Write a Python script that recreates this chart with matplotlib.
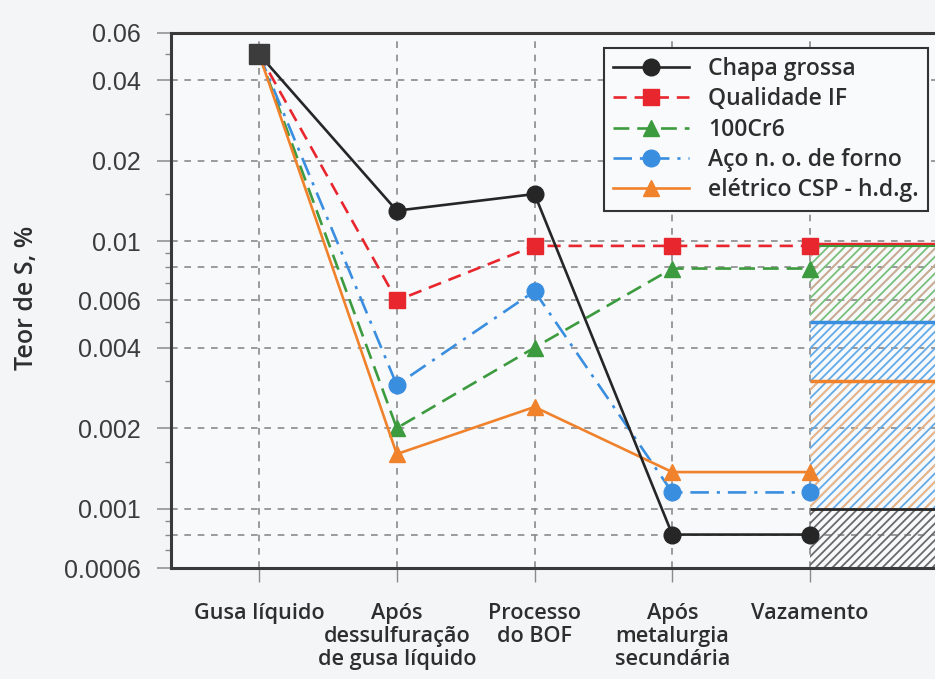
import matplotlib
matplotlib.use("Agg")
import matplotlib.pyplot as plt
from matplotlib.ticker import FixedLocator, FixedFormatter, NullFormatter

# ---- data -------------------------------------------------------------
stages = ["Gusa líquido", "Após\ndessulfuração\nde gusa líquido", "Processo\ndo BOF",
          "Após\nmetalurgia\nsecundária", "Vazamento"]

chapa_grossa = [0.05, 0.013, 0.015, 0.0008, 0.0008]
qualidade_if = [0.05, 0.006, 0.0096, 0.0096, 0.0096]
cr6_100 = [0.05, 0.002, 0.004, 0.0079, 0.0079]
aco_no_azul = [0.05, 0.0029, 0.0065, 0.00115, 0.00115]
aco_no_laranja = [0.05, 0.0016, 0.0024, 0.00137, 0.00137]

legend_lines = ["Chapa grossa", "Qualidade IF", "100Cr6", "Aço n. o. de forno",
                "elétrico CSP - h.d.g."]

# sulphur ranges at tapping (lower, upper)
band_limits = {
    "if": (0.005, 0.0098),
    "cr6": (0.005, 0.0096),
    "azul": (0.001, 0.005),
    "laranja": (0.001, 0.003),
    "chapa": (0.0006, 0.001),
}

yticks_major = [0.0006, 0.001, 0.002, 0.004, 0.006, 0.01, 0.02, 0.04, 0.06]
ytick_labels = ["0.0006", "0.001", "0.002", "0.004", "0.006", "0.01", "0.02", "0.04", "0.06"]
ygrid = [0.0008, 0.001, 0.002, 0.004, 0.006, 0.008, 0.01, 0.02, 0.04]
yticks_minor = [0.0007, 0.0008, 0.0009, 0.0015, 0.003, 0.005, 0.007, 0.008, 0.009,
                0.015, 0.03, 0.05]

# ---- style ------------------------------------------------------------
BLACK = "#262626"
RED = "#e8262e"
GREEN = "#3d9b3f"
BLUE = "#3a8ee0"
ORANGE = "#f0822c"
FRAME = "#3a3a3a"
GRID = "#8a8a8a"
TEXT = "#2e2e2e"

plt.rcParams["font.family"] = ["Liberation Sans", "DejaVu Sans"]
plt.rcParams["hatch.linewidth"] = 1.3
label_font = ["Open Sans", "DejaVu Sans"]

fig = plt.figure(figsize=(9.35, 6.79), dpi=100, facecolor="#f3f5f7")
ax = fig.add_axes([171 / 935, 1 - 568 / 679, 1 - 171 / 935, (568 - 33) / 679])
ax.set_facecolor("#f8f9fb")

x = list(range(len(stages)))
ax.set_yscale("log")
ax.set_ylim(0.0006, 0.06)
ax.set_xlim(-0.639, 4.907)

# dashed grid
for g in ygrid:
    ax.axhline(g, color=GRID, lw=1.2, ls=(0, (4, 4)), zorder=1)
for xi in x:
    ax.axvline(xi, color=GRID, lw=1.2, ls=(0, (4, 4)), zorder=1)

# hatched tapping ranges beyond the last stage
xb = [x[-1], 6]
def band(lo, hi, color, hatch, alpha=1.0):
    ax.fill_between(xb, lo, hi, facecolor="none", edgecolor=color, hatch=hatch,
                    linewidth=0, alpha=alpha, zorder=2)

band(*band_limits["cr6"], "#78c07a", "////")
band(*band_limits["if"], "#f4a0a0", "//", alpha=0.7)
band(*band_limits["azul"], "#62aae8", "////")
band(*band_limits["laranja"], "#f6b680", "//")
band(*band_limits["chapa"], "#6a6a6a", "////")

ax.hlines(band_limits["if"][1], x[-1], 6, color=RED, lw=2.5, zorder=3)
ax.hlines(band_limits["cr6"][1], x[-1], 6, color=GREEN, lw=1.5, zorder=3)
ax.hlines(band_limits["azul"][1], x[-1], 6, color=BLUE, lw=2.5, zorder=3)
ax.hlines(band_limits["laranja"][1], x[-1], 6, color=ORANGE, lw=2.5, zorder=3)
ax.hlines(band_limits["chapa"][1], x[-1], 6, color=BLACK, lw=2.0, zorder=3)

# process curves
lw = 1.9
ms = 12
l1, = ax.plot(x, chapa_grossa, color=BLACK, lw=lw, ls="-", marker="o", ms=ms, zorder=6)
l2, = ax.plot(x, qualidade_if, color=RED, lw=lw, ls=(0, (5, 3)), marker="s", ms=ms, zorder=5)
l3, = ax.plot(x, cr6_100, color=GREEN, lw=lw, ls=(0, (6, 3)), marker="^", ms=ms, zorder=5)
l4, = ax.plot(x, aco_no_azul, color=BLUE, lw=lw, ls=(0, (7, 3, 1.2, 3)), marker="o", ms=ms, zorder=5)
l5, = ax.plot(x, aco_no_laranja, color=ORANGE, lw=lw, ls="-", marker="^", ms=ms, zorder=5)
# common starting point
ax.plot(x[:1], chapa_grossa[:1], ls="none", marker="s", ms=15, color="#3c3c3c", zorder=7)

# axes frame
for side in ["left", "top", "bottom"]:
    ax.spines[side].set_color(FRAME)
    ax.spines[side].set_linewidth(2.2)
ax.spines["right"].set_visible(False)

ax.yaxis.set_major_locator(FixedLocator(yticks_major))
ax.yaxis.set_major_formatter(FixedFormatter(ytick_labels))
ax.yaxis.set_minor_locator(FixedLocator(yticks_minor))
ax.yaxis.set_minor_formatter(NullFormatter())
ax.tick_params(axis="y", which="major", direction="out", length=10, width=1.1,
               color=GRID, labelsize=18, labelcolor="#3c3c3c", pad=12)
ax.tick_params(axis="y", which="minor", direction="out", length=4, width=1.0, color=GRID)

ax.set_xticks(x)
ax.set_xticklabels(stages, fontfamily=label_font, fontweight="semibold", fontsize=15.6,
                   color=TEXT, linespacing=1.14)
ax.tick_params(axis="x", direction="out", length=10, width=1.0, color=GRID, pad=15)

fig.text(26 / 935, 1 - 298 / 679, "Teor de S, %", rotation=90, ha="center", va="center",
         fontfamily=label_font, fontweight="semibold", fontsize=18, color=TEXT)

leg = ax.legend([l1, l2, l3, l4, l5], legend_lines,
                loc="upper right", bbox_to_anchor=(928 / 935, 1 - 48 / 679),
                bbox_transform=fig.transFigure, borderaxespad=0,
                prop={"family": label_font, "weight": "semibold", "size": 16.5},
                handlelength=3.3, labelspacing=0.27, handletextpad=0.85,
                borderpad=0.4, fancybox=False, framealpha=1, facecolor="#f9fafb",
                edgecolor="#333333")
leg.get_frame().set_linewidth(1.5)
for t in leg.get_texts():
    t.set_color(TEXT)

fig.savefig("out.png", dpi=100, facecolor=fig.get_facecolor())
